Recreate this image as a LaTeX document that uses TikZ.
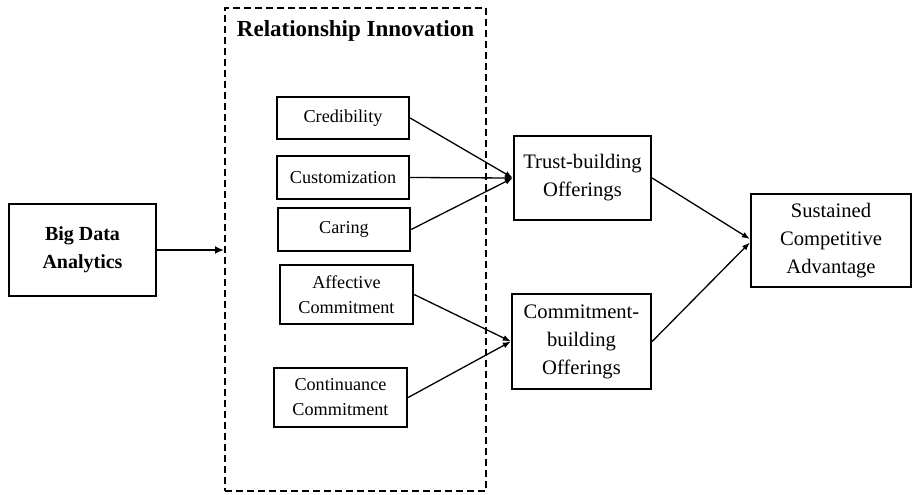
\documentclass[tikz,border=0pt]{standalone}
\usepackage{fontspec}
\setmainfont{Liberation Serif}
\usetikzlibrary{arrows.meta,positioning}
\tikzset{
    concept-box/.style = {draw, line width=2.3pt, rectangle, align=center, inner sep=2pt, font=\fontsize{18.2}{25}\selectfont},
    outcome-box/.style = {concept-box, font=\fontsize{20.6}{28}\selectfont},
    source-box/.style = {concept-box, font=\bfseries\fontsize{20}{28}\selectfont},
    group-box/.style = {draw, line width=2pt, dash pattern=on 7pt off 4pt, rectangle, minimum width=261pt, minimum height=483pt},
    group-title/.style = {inner sep=2pt, font=\bfseries\fontsize{23}{26}\selectfont},
    link/.style = {line width=1.3pt, -{Latex[length=8pt,width=6pt]}},
    thick-link/.style = {line width=2.8pt, -{Latex[length=9pt,width=8pt]}},
}
\begin{document}
\begin{tikzpicture}[x=1pt, y=-1pt]
\useasboundingbox (0,0) rectangle (913,495);
% relationship innovation group
\node [group-box] (ri) at (355.5,249.5) {};
\node [group-title, below=11pt] at (ri.north) {Relationship Innovation};

\node [source-box, minimum width=147pt, minimum height=92pt] (bda) at (82.5,250) {Big Data\\Analytics};

\node [concept-box, minimum width=132pt, minimum height=42pt] (cred) at (343,118) {Credibility};
\node [concept-box, minimum width=132pt, minimum height=43pt] (cust) at (343,177.5) {Customization};
\node [concept-box, minimum width=132pt, minimum height=43pt] (car) at (344,229.5) {Caring};
\node [concept-box, minimum width=133pt, minimum height=59pt] (aff) at (346.5,294.5) {Affective\\Commitment};
\node [concept-box, minimum width=133pt, minimum height=59pt] (cont) at (340.5,397.5) {Continuance\\Commitment};

\node [outcome-box, minimum width=137pt, minimum height=84pt] (trust) at (582.5,178) {Trust-building\\Offerings};
\node [outcome-box, minimum width=139pt, minimum height=95pt] (comm) at (581.5,341.5) {Commitment-\\building\\Offerings};
\node [outcome-box, minimum width=160pt, minimum height=93pt] (sca) at (831,240.5) {Sustained\\Competitive\\Advantage};

% connectors
\draw [thick-link] (bda.east) -- (bda.east -| ri.west);
\draw [link] (cred.east) -- (trust.west);
\draw [link] (cust.east) -- (trust.west);
\draw [link] (car.east) -- (trust.west);
\draw [link] (aff.east) -- (comm.west);
\draw [link] (cont.east) -- (comm.west);
\draw [link] (trust.east) -- ([yshift=1.5pt]sca.west);
\draw [link] (comm.east) -- ([yshift=-2pt]sca.west);
\end{tikzpicture}
\end{document}
